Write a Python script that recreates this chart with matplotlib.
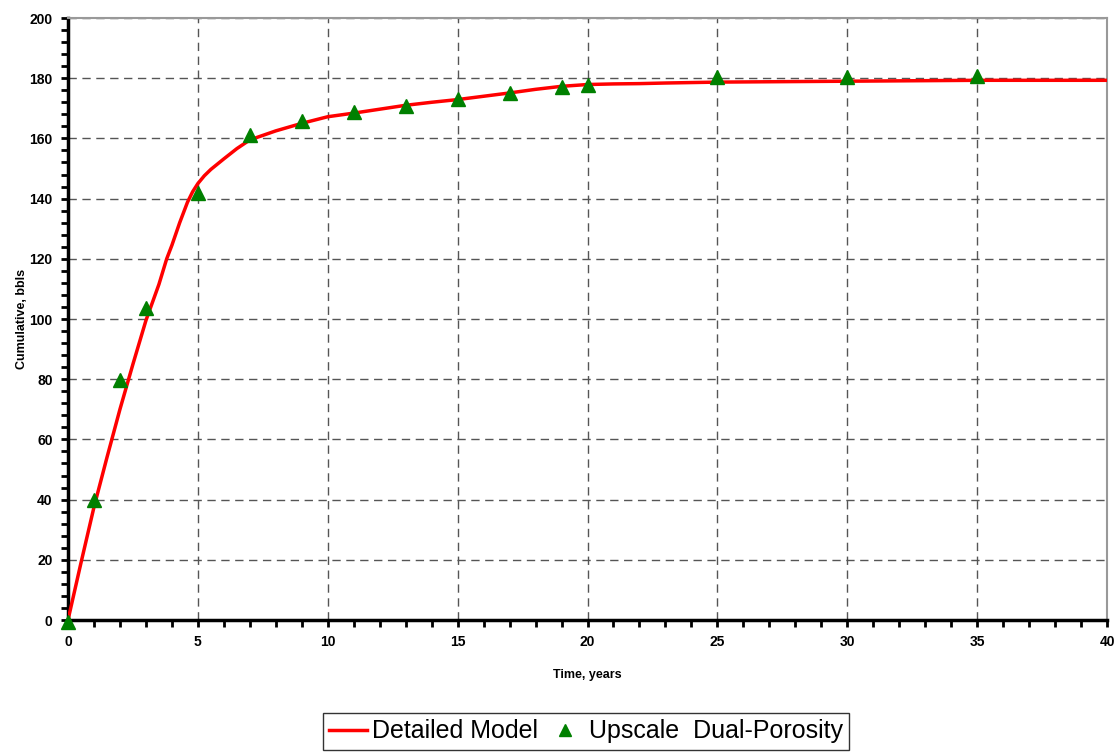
import matplotlib
matplotlib.use("Agg")
import matplotlib.pyplot as plt
from matplotlib.ticker import MultipleLocator

# Detailed Model (red line)
model_t = [0, 0.5, 1, 1.5, 2, 2.5, 3, 3.5, 3.8, 4, 4.3, 4.6, 4.8, 5, 5.25, 5.5, 6,
           6.5, 7, 8, 9, 10, 11, 12, 13, 14, 15, 16, 17, 18, 19, 20, 21, 22, 23,
           25, 30, 35, 40]
model_v = [0, 19, 37.5, 54, 70, 85, 99.5, 111.5, 120, 124.5, 132, 138.8, 142.3,
           145, 147.6, 149.7, 153.2, 156.6, 159.5, 162.5, 165, 167.2, 168.4, 169.7,
           171, 172, 172.9, 174, 175.1, 176.3, 177.3, 177.9, 178.1, 178.2, 178.4,
           178.7, 179.0, 179.3, 179.3]

# Upscale Dual-Porosity (green triangles)
dp_t = [0, 1, 2, 3, 5, 7, 9, 11, 13, 15, 17, 19, 20, 25, 30, 35]
dp_v = [-0.5, 40, 79.7, 103.5, 141.7, 161, 165.8, 168.8, 170.6, 173, 175, 177,
        177.6, 180.3, 180.5, 180.8]

plt.rcParams['font.family'] = ['Liberation Sans', 'DejaVu Sans']

fig = plt.figure(figsize=(11.17, 7.53), dpi=100)
ax = fig.add_axes([68/1117, 1-620/753, (1107-68)/1117, (620-18)/753])

ax.plot(model_t, model_v, color='#ff0000', lw=2.5, label='Detailed Model', zorder=3)
ax.plot(dp_t, dp_v, linestyle='none', marker='^', color='#008000', markersize=10,
        label='Upscale  Dual-Porosity', zorder=4, clip_on=False)

ax.set_xlim(0, 40)
ax.set_ylim(0, 200)
ax.xaxis.set_major_locator(MultipleLocator(5))
ax.xaxis.set_minor_locator(MultipleLocator(1))
ax.yaxis.set_major_locator(MultipleLocator(20))
ax.yaxis.set_minor_locator(MultipleLocator(4))

ax.grid(True, which='major', color='#555555', linestyle=(0, (6, 4)), lw=1)
ax.set_axisbelow(True)

for s in ['left', 'bottom']:
    ax.spines[s].set_linewidth(2.5)
    ax.spines[s].set_color('black')
for s in ['top', 'right']:
    ax.spines[s].set_linewidth(1.5)
    ax.spines[s].set_color('#999999')

ax.tick_params(which='both', direction='out', width=2, length=5, color='black')
ax.tick_params(axis='both', which='major', labelsize=10, pad=6)
for lab in ax.get_xticklabels() + ax.get_yticklabels():
    lab.set_fontweight('bold')

ax.set_xlabel('Time, years', fontsize=9, fontweight='bold', labelpad=14)
ax.set_ylabel('Cumulative, bbls', fontsize=9, fontweight='bold', labelpad=1)

leg = fig.legend(loc='upper center', bbox_to_anchor=(586/1117, 1-713/753),
                 ncol=2, fontsize=18, frameon=True, fancybox=False,
                 edgecolor='black', handlelength=1.5, handletextpad=0.2,
                 columnspacing=0.35, borderpad=0.25, borderaxespad=0,
                 markerscale=0.8)
leg.get_frame().set_linewidth(1.0)

fig.savefig('out.png', dpi=100)
